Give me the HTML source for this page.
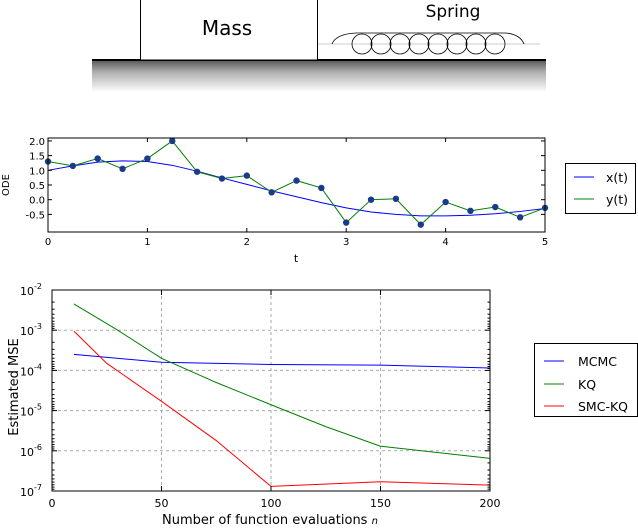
<!DOCTYPE html>
<html><head><meta charset="utf-8"><style>
body{margin:0;background:#fff;width:638px;height:528px;overflow:hidden;font-family:"DejaVu Sans","Liberation Sans",sans-serif}
svg text{font-family:"DejaVu Sans","Liberation Sans",sans-serif}
</style></head><body>
<svg width="638" height="528" xmlns="http://www.w3.org/2000/svg">
<defs><linearGradient id="g" x1="0" y1="0" x2="0" y2="1"><stop offset="0" stop-color="#555"/><stop offset="0.35" stop-color="#aaa"/><stop offset="1" stop-color="#fff"/></linearGradient></defs>
<g>
<rect x="92" y="60" width="454" height="32" fill="url(#g)"/>
<line x1="92" y1="60" x2="546" y2="60" stroke="#000" stroke-width="2"/>
<rect x="140.5" y="-2" width="177" height="62" fill="#fff" stroke="#000"/>
<text x="227" y="35" font-size="20" text-anchor="middle">Mass</text>
<text x="453" y="17" font-size="17" text-anchor="middle">Spring</text>
<g fill="none" stroke="#000" stroke-width="0.8">
<line x1="318" y1="44" x2="540" y2="44" stroke="#bbb"/>
<path d="M332,44 Q336,34 356,33 L505,33 Q520,34 524,44"/>
<g id="coils"></g>
</g>
</g>
<g id="ode"></g>
<g id="mse"></g>
</svg>
<script>
const NS="http://www.w3.org/2000/svg";
function mk(p,t,a){const e=document.createElementNS(NS,t);for(const k in a)e.setAttribute(k,a[k]);p.appendChild(e);return e;}
const coils=document.getElementById('coils');
for(let i=0;i<8;i++){const c=mk(coils,'circle',{cx:362+i*19,cy:44,r:10});}

// ODE chart data
const odeT=[0,0.25,0.5,0.75,1,1.25,1.5,1.75,2,2.25,2.5,2.75,3,3.25,3.5,3.75,4,4.25,4.5,4.75,5];
const odeY=[1.3,1.15,1.4,1.05,1.4,2.0,0.95,0.72,0.82,0.25,0.65,0.4,-0.78,0.0,0.03,-0.85,-0.08,-0.38,-0.25,-0.6,-0.28];
const odeX=[1.0,1.15,1.28,1.32,1.3,1.17,0.97,0.74,0.52,0.3,0.1,-0.1,-0.28,-0.42,-0.5,-0.55,-0.55,-0.53,-0.48,-0.4,-0.3];
const odeYTicks=[2.0,1.5,1.0,0.5,0.0,-0.5];
const odeXTicks=[0,1,2,3,4,5];

const ode=document.getElementById('ode');
const oL=48,oR=545,oT=138,oB=232,oYmin=-1.1,oYmax=2.1;
const ox=t=>oL+(t-0)/5*(oR-oL), oy=v=>oB-(v-oYmin)/(oYmax-oYmin)*(oB-oT);
{
 const xp=mk(ode,'path',{d:odeT.map((t,i)=>(i?'L':'M')+ox(t)+','+oy(odeX[i])).join(''),fill:'none',stroke:'#0000ff','stroke-width':1});
 
 
 const yp=mk(ode,'path',{d:odeT.map((t,i)=>(i?'L':'M')+ox(t)+','+oy(odeY[i])).join(''),fill:'none',stroke:'#008000','stroke-width':1});
 
 
 odeT.forEach((t,i)=>{const c=mk(ode,'circle',{cx:ox(t),cy:oy(odeY[i]),r:3.2,fill:'#1a3a8a'});
  
  });
 mk(ode,'rect',{x:oL,y:oT,width:oR-oL,height:oB-oT,fill:'none',stroke:'#000'});
 odeYTicks.forEach(v=>{mk(ode,'line',{x1:oL,x2:oL+4,y1:oy(v),y2:oy(v),stroke:'#000'});mk(ode,'line',{x1:oR-4,x2:oR,y1:oy(v),y2:oy(v),stroke:'#000'});
  const t=mk(ode,'text',{x:oL-3,y:oy(v)+4,'font-size':10,'text-anchor':'end'});t.textContent=v.toFixed(1);
  
  });
 odeXTicks.forEach(v=>{mk(ode,'line',{x1:ox(v),x2:ox(v),y1:oB,y2:oB-4,stroke:'#000'});mk(ode,'line',{x1:ox(v),x2:ox(v),y1:oT,y2:oT+4,stroke:'#000'});
  const t=mk(ode,'text',{x:ox(v),y:oB+13,'font-size':10,'text-anchor':'middle'});t.textContent=v;
  
  });
 const xl=mk(ode,'text',{x:296,y:262,'font-size':11,'text-anchor':'middle'});xl.textContent='t';
 
 
 const yl=mk(ode,'text',{x:0,y:0,'font-size':10,'text-anchor':'middle',transform:'translate(9,185) rotate(-90)'});yl.textContent='ODE';
 
 
 const lg=mk(ode,'g',{});
 
 
 mk(lg,'rect',{x:565.5,y:163.5,width:70,height:50,fill:'#fff',stroke:'#000'});
 [['x(t)','#0000ff',182],['y(t)','#008000',204]].forEach(([n,c,y])=>{mk(lg,'line',{x1:574,x2:594,y1:y-5,y2:y-5,stroke:c});
  const t=mk(lg,'text',{x:606,y:y,'font-size':12.5});t.textContent=n;});
}

// MSE chart data
const mcmcN=[10,50,100,150,200];
const mcmcV=[2.5e-4,1.6e-4,1.4e-4,1.35e-4,1.15e-4];
const kqN=[10,30,50,75,100,125,150,200];
const kqV=[4.5e-3,1e-3,2e-4,5e-5,1.4e-5,4e-6,1.3e-6,6.5e-7];
const smcN=[10,25,50,75,100,150,200];
const smcV=[9.5e-4,1.5e-4,1.7e-5,1.8e-6,1.3e-7,1.7e-7,1.4e-7];
const mseXTicks=[0,50,100,150,200];
const mseYExp=[-2,-3,-4,-5,-6,-7];

const mse=document.getElementById('mse');
const mL=52,mR=490,mT=290,mB=491;
const mx=n=>mL+n/200*(mR-mL), my=v=>mT+(-2-Math.log10(v))/5*(mB-mT);
{
 mseXTicks.slice(1,4).forEach(v=>mk(mse,'line',{x1:mx(v),x2:mx(v),y1:mT,y2:mB,stroke:'#aaa','stroke-dasharray':'3,3'}));
 mseYExp.slice(1,5).forEach(e=>mk(mse,'line',{x1:mL,x2:mR,y1:my(Math.pow(10,e)),y2:my(Math.pow(10,e)),stroke:'#aaa','stroke-dasharray':'3,3'}));
 [[mcmcN,mcmcV,'#0000ff','mcmc-line'],[kqN,kqV,'#008000','kq-line'],[smcN,smcV,'#ff0000','smc-kq-line']].forEach(([N,V,c,nm])=>{
  const p=mk(mse,'path',{d:N.map((n,i)=>(i?'L':'M')+mx(n)+','+my(V[i])).join(''),fill:'none',stroke:c,'stroke-width':1});
  
  });
 mk(mse,'rect',{x:mL,y:mT,width:mR-mL,height:mB-mT,fill:'none',stroke:'#000'});
 mseYExp.forEach(e=>{const y=my(Math.pow(10,e));
  mk(mse,'line',{x1:mL,x2:mL+5,y1:y,y2:y,stroke:'#000'});mk(mse,'line',{x1:mR-5,x2:mR,y1:y,y2:y,stroke:'#000'});
  if(e>-7)for(let k=2;k<10;k++){const yy=y+Math.log10(k)*(mB-mT)/5;mk(mse,'line',{x1:mL,x2:mL+2.5,y1:yy,y2:yy,stroke:'#000'});mk(mse,'line',{x1:mR-2.5,x2:mR,y1:yy,y2:yy,stroke:'#000'});}
  const t=mk(mse,'text',{x:mL-3,y:y+5,'font-size':11,'text-anchor':'end'});
  
  
  t.innerHTML='10<tspan dy="-6" font-size="8">'+e+'</tspan>';
  t.setAttribute('dx','-7');});
 mseXTicks.forEach(v=>{mk(mse,'line',{x1:mx(v),x2:mx(v),y1:mB,y2:mB-5,stroke:'#000'});mk(mse,'line',{x1:mx(v),x2:mx(v),y1:mT,y2:mT+5,stroke:'#000'});
  const t=mk(mse,'text',{x:mx(v),y:mB+16,'font-size':11,'text-anchor':'middle'});t.textContent=v;
  
  });
 const xl=mk(mse,'text',{x:270,y:524,'font-size':13,'text-anchor':'middle'});
 xl.innerHTML='Number of function evaluations <tspan font-style="italic" font-size="10">n</tspan>';
 
 
 const yl=mk(mse,'text',{x:0,y:0,'font-size':13,'text-anchor':'middle',transform:'translate(18,387) rotate(-90)'});yl.textContent='Estimated MSE';
 
 
 const lg=mk(mse,'g',{});
 
 
 mk(lg,'rect',{x:534.5,y:343.5,width:103,height:73,fill:'#fff',stroke:'#000'});
 [['MCMC','#0000ff',366],['KQ','#008000',389],['SMC-KQ','#ff0000',411]].forEach(([n,c,y])=>{mk(lg,'line',{x1:544,x2:564,y1:y-5,y2:y-5,stroke:c});
  const t=mk(lg,'text',{x:578,y:y,'font-size':12.5});t.textContent=n;});
}
</script>
</body></html>
